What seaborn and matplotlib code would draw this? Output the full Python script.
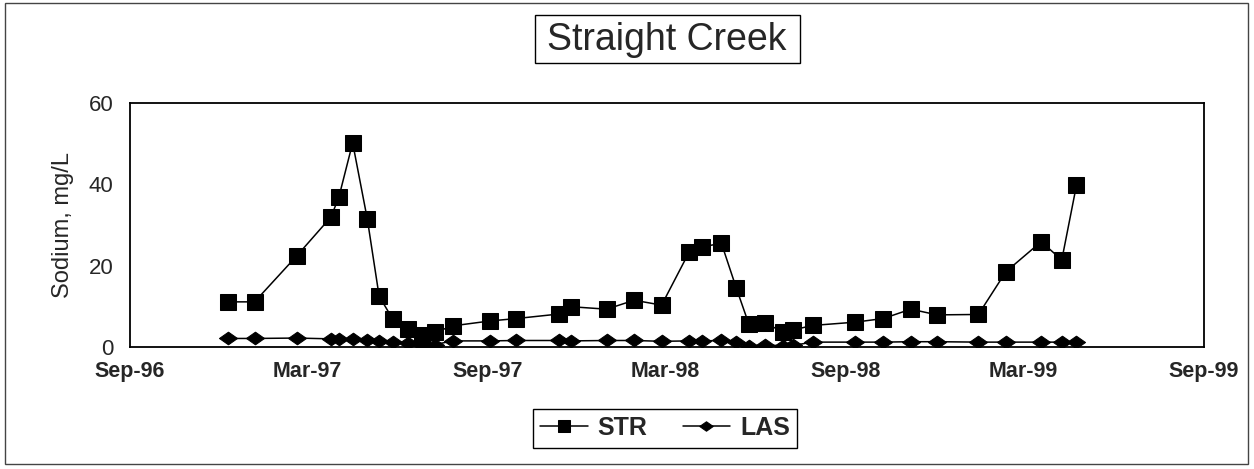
import matplotlib
matplotlib.use("Agg")
import matplotlib.pyplot as plt
import matplotlib.dates as mdates
from matplotlib.path import Path
from matplotlib.patches import Rectangle
import numpy as np
import pandas as pd
import seaborn as sns

# ---- data ----
dates = [
    "1996-12-10", "1997-01-06", "1997-02-18", "1997-03-25", "1997-04-02",
    "1997-04-16", "1997-05-01", "1997-05-13", "1997-05-27", "1997-06-11",
    "1997-06-26", "1997-07-09", "1997-07-27", "1997-09-03", "1997-09-30",
    "1997-11-12", "1997-11-25", "1997-12-31", "1998-01-28", "1998-02-25",
    "1998-03-25", "1998-04-07", "1998-04-27", "1998-05-12", "1998-05-25",
    "1998-06-10", "1998-06-29", "1998-07-09", "1998-07-29", "1998-09-10",
    "1998-10-09", "1998-11-06", "1998-12-03", "1999-01-14", "1999-02-11",
    "1999-03-19", "1999-04-09", "1999-04-24",
]
str_vals = [
    11.1, 11.1, 22.4, 32.0, 36.9,
    50.2, 31.4, 12.5, 6.8, 4.5,
    3.0, 3.6, 5.2, 6.4, 7.0,
    8.1, 9.9, 9.3, 11.5, 10.3,
    23.3, 24.6, 25.5, 14.6, 5.6,
    5.8, 3.8, 4.2, 5.3, 6.1,
    7.0, 9.3, 7.9, 8.0, 18.5,
    25.9, 21.4, 39.8,
]
las_vals = [
    2.1, 2.1, 2.2, 2.0, 2.0,
    1.9, 1.7, 1.5, 1.3, 1.0,
    0.5, 0.6, 1.5, 1.5, 1.6,
    1.6, 1.5, 1.6, 1.6, 1.4,
    1.5, 1.5, 1.6, 1.3, 0.2,
    0.5, 0.3, 0.4, 1.2, 1.2,
    1.2, 1.3, 1.3, 1.2, 1.2,
    1.2, 1.2, 1.2,
]
tick_dates = ["1996-09-01", "1997-03-01", "1997-09-01", "1998-03-01",
              "1998-09-01", "1999-03-01", "1999-09-01"]
tick_labels = ["Sep-96", "Mar-97", "Sep-97", "Mar-98", "Sep-98", "Mar-99", "Sep-99"]
y_ticks = [0, 20, 40, 60]
title = "Straight Creek"
y_label = "Sodium, mg/L"

df = pd.DataFrame({"date": pd.to_datetime(dates), "STR": str_vals, "LAS": las_vals})

sns.set_theme(style="white")
plt.rcParams["font.family"] = ["Liberation Sans", "DejaVu Sans"]

fig = plt.figure(figsize=(12.54, 4.69), dpi=100)
ax = fig.add_axes([130 / 1254, 1 - 347 / 469, 1074 / 1254, 244 / 469])

diamond = Path([(-1, 0), (0, 0.7), (1, 0), (0, -0.7), (-1, 0)],
               [Path.MOVETO, Path.LINETO, Path.LINETO, Path.LINETO, Path.CLOSEPOLY])

sns.lineplot(data=df, x="date", y="STR", ax=ax, color="black", linewidth=1.1,
             marker="s", markersize=12, markerfacecolor="black",
             markeredgecolor="black", label="STR")
sns.lineplot(data=df, x="date", y="LAS", ax=ax, color="black", linewidth=1.1,
             marker=diamond, markersize=13, markerfacecolor="black",
             markeredgecolor="black", label="LAS")

ax.set_xlim(pd.Timestamp(tick_dates[0]), pd.Timestamp(tick_dates[-1]))
ax.set_ylim(0, 60)
ax.set_xticks(pd.to_datetime(tick_dates))
ax.set_xticklabels(tick_labels, fontsize=15.5, fontweight="bold")
ax.xaxis.set_minor_locator(mdates.MonthLocator(bymonth=[6, 12]))
ax.set_yticks(y_ticks)
ax.set_yticklabels([str(v) for v in y_ticks], fontsize=16)
ax.tick_params(axis="y", direction="in", length=8, width=1.2, color="black", pad=12)
ax.tick_params(axis="x", which="both", direction="in", length=4, width=1, color="black", pad=10)
ax.set_xlabel("")
ax.set_ylabel(y_label, fontsize=17)
ax.yaxis.set_label_coords(-(130 - 74) / 1074, 0.5)
for sp in ax.spines.values():
    sp.set_color("black")
    sp.set_linewidth(1.3)
ax.grid(False)

leg = ax.legend(loc="center", bbox_to_anchor=(665 / 1254, 1 - 428 / 469),
                bbox_transform=fig.transFigure, ncol=2, frameon=True, fancybox=False,
                edgecolor="black", framealpha=1, prop={"weight": "bold", "size": 18},
                handlelength=1.9, columnspacing=1.4, borderpad=0.3, handletextpad=0.4,
                markerscale=0.75)
leg.get_frame().set_linewidth(1.0)

# title box
fig.patches.append(Rectangle((535 / 1254, 1 - 63 / 469), 265 / 1254, 48 / 469,
                             transform=fig.transFigure, fill=True, facecolor="white",
                             edgecolor="black", linewidth=1.0))
fig.text(667 / 1254, 1 - 40 / 469, title, ha="center", va="center", fontsize=27)

# outer frame
fig.patches.append(Rectangle((5 / 1254, 5 / 469), 1243 / 1254, 461 / 469,
                             transform=fig.transFigure, fill=False,
                             edgecolor="#444444", linewidth=1.0))

fig.savefig("out.png", dpi=100)
